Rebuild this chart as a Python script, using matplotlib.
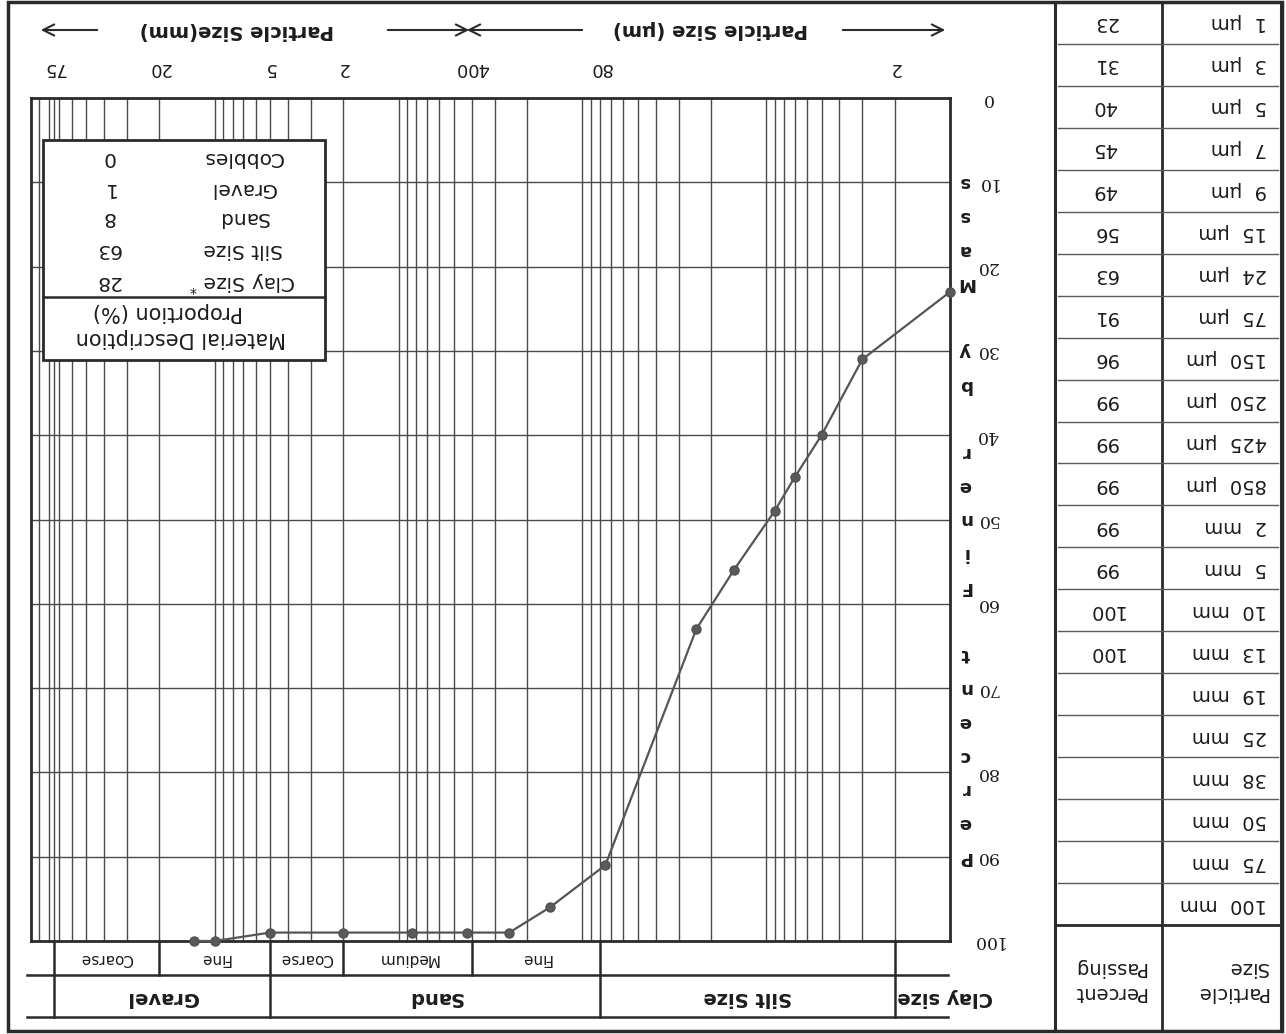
import matplotlib
matplotlib.use("Agg")
import matplotlib.pyplot as plt
import matplotlib.transforms as mtransforms
from matplotlib.patches import Rectangle, FancyArrowPatch
from matplotlib.lines import Line2D

plt.rcParams["font.family"] = ["DejaVu Sans"]

W, H, DPI = 1286, 1034, 100

# Sieve / hydrometer results
size_labels = ["1 µm", "3 µm", "5 µm", "7 µm", "9 µm", "15 µm", "24 µm", "75 µm",
               "150 µm", "250 µm", "425 µm", "850 µm", "2 mm", "5 mm", "10 mm",
               "13 mm", "19 mm", "25 mm", "38 mm", "50 mm", "75 mm", "100 mm"]
size_mm = [0.001, 0.003, 0.005, 0.007, 0.009, 0.015, 0.024, 0.075,
           0.15, 0.25, 0.425, 0.85, 2, 5, 10, 13, 19, 25, 38, 50, 75, 100]
percent_passing = [23, 31, 40, 45, 49, 56, 63, 91, 96, 99, 99, 99, 99, 99, 100, 100,
                   None, None, None, None, None, None]

# Material proportions (%)
materials = ["Clay Size", "Silt Size", "Sand", "Gravel", "Cobbles"]
proportions = [28, 63, 8, 1, 0]

# Size class boundaries (mm) with their scale labels
class_edges_mm = [0.002, 0.08, 0.4, 2, 5, 20, 75]
class_edge_labels = ["2", "80", "400", "2", "5", "20", "75"]

# Sub-classes (lower, upper boundary in mm)
sub_classes = ["Fine", "Medium", "Coarse", "Fine", "Coarse"]
sub_bounds = [(0.08, 0.4), (0.4, 2), (2, 5), (5, 20), (20, 75)]
main_classes = ["Silt Size", "Sand", "Gravel"]
main_bounds = [(0.002, 0.08), (0.08, 5), (5, 75)]

percent_ticks = [0, 10, 20, 30, 40, 50, 60, 70, 80, 90, 100]
axis_title = "Percent Finer by Mass"

LINE = "#2a2a2a"
GRID = "#4a4a4a"
TXT = "#1c1c1c"
CURVE = "#555555"


def fx(px):
    return px / W


def fy(py):
    return 1 - py / H


fig = plt.figure(figsize=(W / DPI, H / DPI), dpi=DPI)
fig.patch.set_facecolor("white")

AX_L, AX_R, AX_T, AX_B = 31, 950, 98, 941
ax = fig.add_axes([fx(AX_L), fy(AX_B), (AX_R - AX_L) / W, (AX_B - AX_T) / H])
ax.set_xscale("log")
ax.set_xlim(100, 0.001)
ax.set_ylim(100, 0)
ax.tick_params(which="both", length=0, labelbottom=False, labelleft=False)
ax.set_xticks([])
ax.set_yticks([])
ax.minorticks_off()
for sp in ax.spines.values():
    sp.set_color(LINE)
    sp.set_linewidth(2.0)

# log grid
grid_x = [m * 10.0 ** k for k in range(-3, 2) for m in range(1, 10)][1:] + [75]
for v in grid_x:
    ax.axvline(v, color=GRID, lw=1.0, zorder=1)
for p in percent_ticks[1:-1]:
    ax.axhline(p, color=GRID, lw=1.0, zorder=1)

# grading curve
pts = [(s, p) for s, p in zip(size_mm, percent_passing) if p is not None]
ax.plot([s for s, _ in pts], [p for _, p in pts], "-o", color=CURVE, lw=1.6,
        ms=6.5, mfc="#5a5a5a", mec="#505050", clip_on=False, zorder=4)

bx = mtransforms.blended_transform_factory(ax.transData, fig.transFigure)
by = mtransforms.blended_transform_factory(fig.transFigure, ax.transData)

# scale labels above the plot
for v, lab in zip(class_edges_mm, class_edge_labels):
    ax.text(v, fy(68), lab, transform=bx, rotation=180, ha="center", va="center",
            fontsize=13, color=TXT)

# percent labels and stacked axis title
for p in percent_ticks:
    ax.text(fx(987), p, str(p), transform=by, rotation=180, ha="center",
            va="center", fontsize=12.5, family="DejaVu Serif", color=TXT)
for i, ch in enumerate(axis_title):
    if ch != " ":
        ax.text(fx(965), 90 - 4 * i, ch, transform=by, rotation=180, ha="center",
                va="center", fontsize=13, fontweight="bold", color=TXT)

# particle size direction row
fig.text(fx(237), fy(30), "Particle Size(mm)", rotation=180, ha="center",
         va="center", fontsize=14, fontweight="bold", color=TXT)
fig.text(fx(711), fy(30), "Particle Size (µm)", rotation=180, ha="center",
         va="center", fontsize=14, fontweight="bold", color=TXT)
for (x0, x1) in [(100, 38), (385, 472), (585, 464), (840, 948)]:
    fig.add_artist(FancyArrowPatch((fx(x0), fy(30)), (fx(x1), fy(30)),
                                   transform=fig.transFigure, arrowstyle="->",
                                   mutation_scale=20, lw=1.5, color=LINE))

# proportion box
BX_L, BX_R, BX_T, BX_B, BX_D = 43, 325, 140, 360, 297
fig.add_artist(Rectangle((fx(BX_L), fy(BX_B)), (BX_R - BX_L) / W, (BX_B - BX_T) / H,
                         transform=fig.transFigure, facecolor="white",
                         edgecolor=LINE, lw=2.0, zorder=5))
fig.add_artist(Line2D([fx(BX_L), fx(BX_R)], [fy(BX_D), fy(BX_D)],
                      transform=fig.transFigure, color=LINE, lw=1.8, zorder=6))
fig.text(fx(181), fy(338), "Material Description", rotation=180, ha="center",
         va="center", fontsize=15, color=TXT, zorder=7)
fig.text(fx(168), fy(312), "Proportion (%)", rotation=180, ha="center",
         va="center", fontsize=15, color=TXT, zorder=7)
row_y = [282, 249, 218, 188, 158]
for name, val, yy in zip(materials, proportions, row_y):
    label = name + " $^{*}$" if name == "Clay Size" else name
    fig.text(fx(243), fy(yy), label, rotation=180, ha="center", va="center",
             fontsize=14.5, color=TXT, zorder=7)
    fig.text(fx(108), fy(yy), str(val), rotation=180, ha="center", va="center",
             fontsize=14.5, color=TXT, zorder=7)

# classification strip under the plot
R0, R1, R2 = AX_B, 975, 1017
for yy in (R1, R2):
    fig.add_artist(Line2D([fx(27), fx(948)], [fy(yy), fy(yy)],
                          transform=fig.transFigure, color=LINE, lw=1.8))
for v in class_edges_mm:
    bottom = R2 if v in (0.002, 0.08, 5, 75) else R1
    fig.add_artist(Line2D([v, v], [fy(R0), fy(bottom)], transform=bx,
                          color=LINE, lw=1.8))
for name, (a, b) in zip(sub_classes, sub_bounds):
    ax.text((a * b) ** 0.5, fy(958), name, transform=bx, rotation=180,
            ha="center", va="center", fontsize=11, color=TXT)
for name, (a, b) in zip(main_classes, main_bounds):
    ax.text((a * b) ** 0.5, fy(997), name, transform=bx, rotation=180,
            ha="center", va="center", fontsize=14, fontweight="bold", color=TXT)
fig.text(fx(993), fy(997), "Clay size", rotation=180, ha="right", va="center",
         fontsize=14, fontweight="bold", color=TXT)

# results table
T_L, T_M, T_R, T_T, T_H, T_B = 1055, 1162, 1281, 2, 925, 1031
row_h = (T_H - T_T) / len(size_labels)
fig.add_artist(Rectangle((fx(T_L), fy(T_B)), (T_R - T_L) / W, (T_B - T_T) / H,
                         transform=fig.transFigure, fill=False, edgecolor=LINE,
                         lw=2.2))
fig.add_artist(Line2D([fx(T_M), fx(T_M)], [fy(T_T), fy(T_B)],
                      transform=fig.transFigure, color=LINE, lw=2.0))
fig.add_artist(Line2D([fx(T_L), fx(T_R)], [fy(T_H), fy(T_H)],
                      transform=fig.transFigure, color=LINE, lw=2.0))
for i in range(1, len(size_labels)):
    yy = T_T + i * row_h
    fig.add_artist(Line2D([fx(T_L + 3), fx(T_R - 3)], [fy(yy), fy(yy)],
                          transform=fig.transFigure, color="#5a5a5a", lw=1.0))
for i, (lab, p) in enumerate(zip(size_labels, percent_passing)):
    yc = T_T + (i + 0.5) * row_h
    fig.text(fx(1267), fy(yc), lab.replace(" ", "  "), rotation=180, ha="right",
             va="center", fontsize=14, color=TXT)
    if p is not None:
        fig.text(fx(1105), fy(yc), str(p), rotation=180, ha="center",
                 va="center", fontsize=14, color=TXT)
fig.text(fx(1268), fy(980), "Particle\nSize", rotation=180, ha="right",
         va="center", multialignment="left", fontsize=14, linespacing=1.4,
         color=TXT)
fig.text(fx(1146), fy(980), "Percent\nPassing", rotation=180, ha="right",
         va="center", multialignment="left", fontsize=14, linespacing=1.4,
         color=TXT)

# outer frame
fig.add_artist(Rectangle((fx(8), fy(1031)), (1282 - 8) / W, (1031 - 2) / H,
                         transform=fig.transFigure, fill=False, edgecolor=LINE,
                         lw=2.5))

fig.savefig("out.png", dpi=DPI, facecolor="white")
